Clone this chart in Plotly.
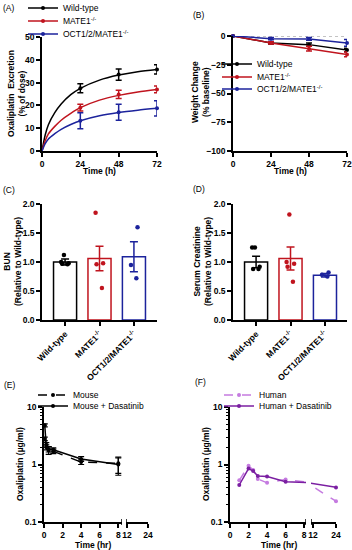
import plotly.graph_objects as go

W, H = 352, 550

# ---------------- Data ----------------
# Panel A: cumulative oxaliplatin excretion (% of dose)
a_time = [24, 48, 72]
a_wt = [27.5, 33.5, 35.8]
a_wt_err = [2.0, 2.5, 2.0]
a_mate = [19.0, 24.8, 27.0]
a_mate_err = [1.5, 1.8, 1.5]
a_oct = [13.3, 17.0, 18.7]
a_oct_err = [3.5, 3.5, 3.3]
fit_time = [0, 2, 4, 8, 12, 18, 24, 36, 48, 60, 72]
fit_wt = [0, 7.0, 11.5, 16.8, 20.6, 24.7, 27.5, 31.1, 33.3, 34.8, 35.8]
fit_mate = [0, 4.5, 7.5, 10.8, 13.5, 16.5, 19.0, 22.3, 24.4, 25.9, 27.0]
fit_oct = [0, 3.2, 5.3, 7.6, 9.5, 11.6, 13.3, 15.5, 16.9, 17.9, 18.7]

# Panel B: weight change (% baseline)
b_time = [0, 24, 48, 72]
b_wt = [0, -6.0, -7.5, -12.2]
b_wt_err = [0, 1.0, 1.5, 1.5]
b_mate = [0, -6.0, -11.0, -16.0]
b_mate_err = [0, 1.0, 2.0, 2.0]
b_oct = [0, -2.3, -2.6, -6.0]
b_oct_err = [0, 1.0, 1.2, 3.0]

# Panels C / D: bars (mean, SEM) + individual animals
groups = ["Wild-type", "MATE1-/-", "OCT1/2/MATE1-/-"]
group_labels = ["Wild-type", "MATE1<sup>-/-</sup>", "OCT1/2/MATE1<sup>-/-</sup>"]
c_mean = [1.00, 1.06, 1.09]
c_sem = [0.05, 0.21, 0.26]
c_pts_wt = [1.12, 1.00, 0.97, 0.96, 0.98]
c_pts_mate = [1.85, 0.98, 0.96, 0.55]
c_pts_oct = [1.60, 0.95, 0.72]
d_mean = [1.00, 1.06, 0.77]
d_sem = [0.10, 0.20, 0.03]
d_pts_wt = [1.25, 1.25, 0.92, 0.88, 0.88]
d_pts_mate = [1.82, 1.00, 0.97, 0.92, 0.66]
d_pts_oct = [0.82, 0.78, 0.75]

# Panel E: mouse PK
e_time = [0.083, 0.25, 0.5, 1, 4, 8]
e_mouse = [2.8, 2.2, 1.75, 1.7, 1.1, 1.05]
e_mouse_up = [0.2, 0.2, 0.3, 0.15, 0.1, 0.3]
e_mouse_dn = [0.2, 0.2, 0.25, 0.15, 0.1, 0.35]
e_das = [4.8, 2.0, 1.85, 1.8, 1.25, 1.0]
e_das_up = [0.3, 0.2, 0.2, 0.15, 0.12, 0.3]
e_das_dn = [0.3, 0.2, 0.2, 0.15, 0.12, 0.35]

# Panel F: human PK
f_time_h = [1, 2, 2.5, 3, 4, 6, 24]
f_human = [0.53, 0.95, 0.80, 0.56, 0.48, 0.55, 0.23]
f_time_hd = [1, 2, 2.5, 3, 4, 6, 24]
f_human_das = [0.44, 0.85, 0.77, 0.63, 0.62, 0.50, 0.40]

# ---------------- Style ----------------
FONT = "Liberation Sans, Arial, sans-serif"
BLACK = "#000000"
RED = "#c0141e"
BLUE = "#1c239c"
PURPLE = "#7b1fa2"
LILAC = "#c57be0"
FS = 8.5


def xd(a, b):
    return [a / W, b / W]


def yd(top, bottom):
    return [1 - bottom / H, 1 - top / H]


def axis(**kw):
    base = dict(showline=True, linecolor=BLACK, linewidth=1.5, ticks="outside",
                ticklen=4, tickwidth=1.5, tickcolor=BLACK, showgrid=False,
                zeroline=False, tickfont=dict(family=FONT, size=FS, color=BLACK, weight="bold"),
                fixedrange=True, automargin=False)
    base.update(kw)
    return base


fig = go.Figure()

# ---- Panel A ----
for fy, y, err, col, name, lg in [
    (fit_wt, a_wt, a_wt_err, BLACK, "Wild-type", "legend"),
    (fit_mate, a_mate, a_mate_err, RED, "MATE1<sup>-/-</sup>", "legend2"),
    (fit_oct, a_oct, a_oct_err, BLUE, "OCT1/2/MATE1<sup>-/-</sup>", "legend3"),
]:
    fig.add_trace(go.Scatter(x=fit_time, y=fy, mode="lines", line=dict(color=col, width=1.5, shape="spline", smoothing=0.8),
                             showlegend=False, xaxis="x", yaxis="y", hoverinfo="skip"))
    fig.add_trace(go.Scatter(x=a_time, y=y, mode="markers", marker=dict(color=col, size=4),
                             error_y=dict(type="data", array=err, color=col, thickness=1.5, width=3),
                             showlegend=False, xaxis="x", yaxis="y", cliponaxis=False))
    fig.add_trace(go.Scatter(x=[None], y=[None], mode="lines+markers", name=name,
                             line=dict(color=col, width=1.5), marker=dict(color=col, size=4),
                             xaxis="x", yaxis="y", legend=lg))

# ---- Panel B ----
for y, err, col, name, lg in [
    (b_wt, b_wt_err, BLACK, "Wild-type", "legend4"),
    (b_mate, b_mate_err, RED, "MATE1<sup>-/-</sup>", "legend5"),
    (b_oct, b_oct_err, BLUE, "OCT1/2/MATE1<sup>-/-</sup>", "legend6"),
]:
    fig.add_trace(go.Scatter(x=b_time, y=y, mode="lines+markers", name=name,
                             line=dict(color=col, width=1.5), marker=dict(color=col, size=4),
                             error_y=dict(type="data", array=err, color=col, thickness=1.5, width=3),
                             xaxis="x2", yaxis="y2", legend=lg, cliponaxis=False))

# ---- Panels C / D ----
colors = [BLACK, RED, BLUE]
for (means, sems, pts_list, xa, ya) in [
    (c_mean, c_sem, [c_pts_wt, c_pts_mate, c_pts_oct], "x3", "y3"),
    (d_mean, d_sem, [d_pts_wt, d_pts_mate, d_pts_oct], "x4", "y4"),
]:
    for i, g in enumerate(groups):
        fig.add_trace(go.Bar(x=[g], y=[means[i]], width=0.67,
                             marker=dict(color="white", line=dict(color=colors[i], width=1.5)),
                             error_y=dict(type="data", array=[sems[i]], color=colors[i], thickness=1.5, width=4),
                             showlegend=False, xaxis=xa, yaxis=ya))
        fig.add_trace(go.Box(x=[g] * len(pts_list[i]), y=pts_list[i], boxpoints="all", jitter=0.55, pointpos=0,
                             fillcolor="rgba(0,0,0,0)", line=dict(width=0, color="rgba(0,0,0,0)"),
                             marker=dict(color=colors[i], size=4.5), showlegend=False,
                             xaxis=xa, yaxis=ya, hoverinfo="y"))

# ---- Panel E ----
fig.add_trace(go.Scatter(x=e_time, y=e_mouse, mode="lines+markers", name="Mouse",
                         line=dict(color=BLACK, width=1.5, dash="dash"), marker=dict(color=BLACK, size=4),
                         error_y=dict(type="data", array=e_mouse_up, arrayminus=e_mouse_dn, color=BLACK, thickness=1.2, width=3),
                         xaxis="x5", yaxis="y5", legend="legend7", cliponaxis=False))
fig.add_trace(go.Scatter(x=e_time, y=e_das, mode="lines+markers", name="Mouse + Dasatinib",
                         line=dict(color=BLACK, width=1.5), marker=dict(color=BLACK, size=4),
                         error_y=dict(type="data", array=e_das_up, arrayminus=e_das_dn, color=BLACK, thickness=1.2, width=3),
                         xaxis="x5", yaxis="y5", legend="legend8", cliponaxis=False))

# ---- Panel F (broken axis: two x segments) ----
for xa, show in [("x7", True), ("x8", False)]:
    fig.add_trace(go.Scatter(x=f_time_h, y=f_human, mode="lines+markers", name="Human",
                             line=dict(color=LILAC, width=1.5, dash="dash"), marker=dict(color=LILAC, size=4),
                             xaxis=xa, yaxis="y6", legend="legend9", showlegend=show, cliponaxis=False))
    fig.add_trace(go.Scatter(x=f_time_hd, y=f_human_das, mode="lines+markers", name="Human + Dasatinib",
                             line=dict(color=PURPLE, width=1.5), marker=dict(color=PURPLE, size=4),
                             xaxis=xa, yaxis="y6", legend="legend10", showlegend=show, cliponaxis=False))

# ---------------- Layout ----------------
log_minor = dict(ticks="outside", ticklen=2.5, tickwidth=1, tickcolor=BLACK,
                 tickvals=[0.2, 0.3, 0.4, 0.5, 0.6, 0.7, 0.8, 0.9, 2, 3, 4, 5, 6, 7, 8, 9])

layout = dict(
    width=W, height=H, margin=dict(l=0, r=0, t=0, b=0, autoexpand=False),
    paper_bgcolor="white", plot_bgcolor="white",
    font=dict(family=FONT, size=FS, color=BLACK),
    barmode="overlay", boxmode="overlay",
    xaxis=axis(domain=xd(42, 157), range=[0, 72], tickvals=[0, 24, 48, 72], anchor="y"),
    yaxis=axis(domain=yd(37, 151), range=[0, 50], dtick=10, anchor="x"),
    xaxis2=axis(domain=xd(233, 347), range=[0, 72], tickvals=[0, 24, 48, 72], anchor="y2"),
    yaxis2=axis(domain=yd(36, 151), range=[-100, 0], tickvals=[0, -25, -50, -75, -100], anchor="x2"),
    xaxis3=axis(domain=xd(42, 157), range=[-0.67, 2.67], type="category", categoryarray=groups,
                tickvals=groups, ticktext=group_labels, tickangle=-45, anchor="y3"),
    yaxis3=axis(domain=yd(204, 320), range=[0, 2], dtick=0.5, tickformat=".1f", anchor="x3"),
    xaxis4=axis(domain=xd(233, 347), range=[-0.67, 2.64], type="category", categoryarray=groups,
                tickvals=groups, ticktext=group_labels, tickangle=-45, anchor="y4"),
    yaxis4=axis(domain=yd(204, 320), range=[0, 2], dtick=0.5, tickformat=".1f", anchor="x4"),
    xaxis5=axis(domain=xd(44, 122), range=[0, 8.4], tickvals=[0, 2, 4, 6, 8], anchor="y5"),
    xaxis6=axis(domain=xd(126, 148), range=[11.43, 24], tickvals=[12, 24], anchor="y5"),
    yaxis5=axis(domain=yd(407, 522), type="log", range=[-1, 1], tickvals=[0.1, 1, 10],
                ticktext=["0.1", "1", "10"], minor=log_minor, anchor="x5"),
    xaxis7=axis(domain=xd(230, 306), range=[0, 8.2], tickvals=[0, 2, 4, 6, 8], anchor="y6"),
    xaxis8=axis(domain=xd(311, 336), range=[11, 24], tickvals=[12, 24], anchor="y6"),
    yaxis6=axis(domain=yd(407, 522), type="log", range=[-1, 1], tickvals=[0.1, 1, 10],
                ticktext=["0.1", "1", "10"], minor=log_minor, anchor="x7"),
)


def leg(x_px, y_px):
    return dict(x=x_px / W, y=1 - y_px / H, xanchor="left", yanchor="middle",
                bgcolor="rgba(0,0,0,0)", borderwidth=0, itemwidth=30,
                font=dict(family=FONT, size=FS, color=BLACK), tracegroupgap=0)


legend_pos = {
    "legend": (23, 8), "legend2": (23, 21), "legend3": (23, 34),
    "legend4": (217, 64), "legend5": (217, 77), "legend6": (217, 89),
    "legend7": (33, 395), "legend8": (33, 406),
    "legend9": (219, 395), "legend10": (219, 406),
}
for k, (px, py) in legend_pos.items():
    layout[k] = leg(px, py)

fig.update_layout(**layout)

# zero reference line in panel B
fig.add_shape(type="line", xref="x2", yref="y2", x0=0, x1=72, y0=0, y1=0,
              line=dict(color="#888888", width=1, dash="dot"), layer="below")

# axis-break marks
for xa, xv in [("x5", 8.4), ("x6", 11.43), ("x7", 8.2), ("x8", 11)]:
    fig.add_shape(type="line", xref=xa, yref="paper", x0=xv, x1=xv,
                  y0=1 - 525 / H, y1=1 - 519 / H, line=dict(color=BLACK, width=1.5))

# text annotations: panel letters & axis titles
ann = []


def text(x_px, y_px, s, bold=True, angle=0, size=FS):
    ann.append(dict(x=x_px / W, y=1 - y_px / H, xref="paper", yref="paper", text=s, showarrow=False,
                    textangle=angle, xanchor="center", yanchor="middle",
                    font=dict(family=FONT, size=size, color=BLACK, weight="bold" if bold else "normal")))


text(9, 8, "(A)", bold=False)
text(199, 15, "(B)", bold=False)
text(9, 190, "(C)", bold=False)
text(199, 189, "(D)", bold=False)
text(10, 385, "(E)", bold=False)
text(200, 382, "(F)", bold=False)

text(16, 94, "Oxaliplatin  Excretion<br>(% of dose)", angle=-90)
text(201, 92, "Weight Change<br>(% baseline)", angle=-90)
text(12, 262, "BUN<br>(Relative to Wild-type)", angle=-90)
text(202, 262, "Serum Creatinine<br>(Relative to Wild-type)", angle=-90)
text(20, 464, "Oxaliplatin (µg/ml)", angle=-90)
text(206, 464, "Oxaliplatin (µg/ml)", angle=-90)

text(99, 171, "Time (h)")
text(290, 171, "Time (h)")
text(93, 545, "Time (hr)")
text(279, 545, "Time (hr)")

fig.update_layout(annotations=ann)

fig.write_html("out.html", config={"displayModeBar": False},
               post_script="document.body.style.margin='0';document.body.style.overflow='hidden';")
